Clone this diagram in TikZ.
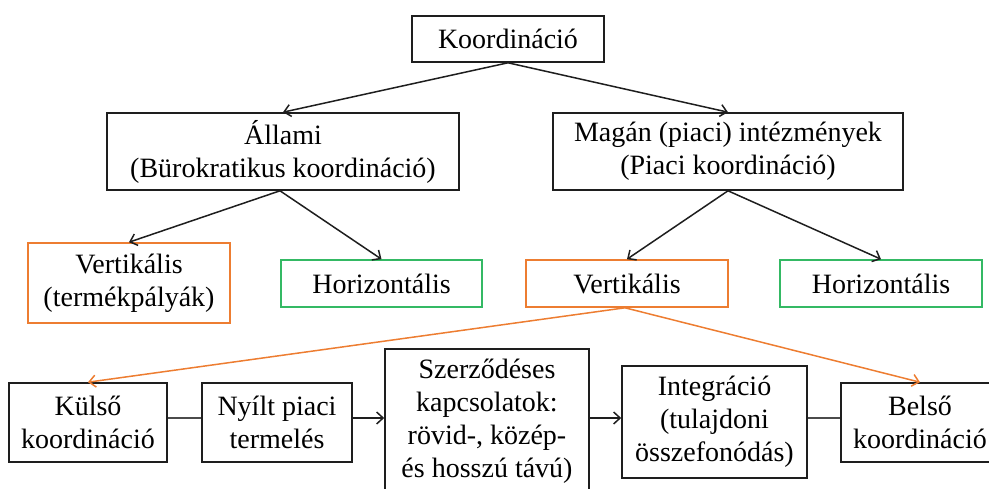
\documentclass[tikz,border=0pt]{standalone}
\usepackage{fontspec}
\setmainfont{Liberation Serif}
\usetikzlibrary{arrows.meta}
\definecolor{boxorange}{RGB}{237,125,49}
\definecolor{boxgreen}{RGB}{52,185,100}
\definecolor{inkblack}{RGB}{30,30,30}
\begin{document}
\begin{tikzpicture}[x=1pt,y=-1pt,
  every node/.style={font=\fontsize{28}{33}\selectfont, inner sep=0pt, align=center},
  blk/.style={draw=inkblack, line width=1.6pt, minimum width=#1},
  orbox/.style={draw=boxorange, line width=1.6pt, minimum width=#1},
  grbox/.style={draw=boxgreen, line width=1.6pt, minimum width=#1},
  arr/.style={draw=inkblack, line width=1.5pt, -{Straight Barb[length=6.5pt,width=12pt]}},
  oarr/.style={draw=boxorange, line width=1.5pt, -{Straight Barb[length=6.5pt,width=12pt]}},
  link/.style={draw=inkblack!80, line width=1.5pt}]
\useasboundingbox (0,0) rectangle (989,489);
\clip (0,0) rectangle (989,489);

% top level
\node[blk=192pt, minimum height=46pt] (koord) at (508,39) {Koordináció};

% second level
\node[blk=352pt, minimum height=77pt] (allami) at (283,151.5) {Állami\\(Bürokratikus koordináció)};
\node[blk=350pt, minimum height=77pt] (magan) at (728,151.5) {Magán (piaci) intézmények\\(Piaci koordináció)};

% third level
\node[orbox=202pt, minimum height=80pt] (vert1) at (129,283) {Vertikális\\(termékpályák)};
\node[grbox=201pt, minimum height=47pt] (hor1) at (381.5,283.5) {Horizontális};
\node[orbox=202pt, minimum height=47pt] (vert2) at (627,283.5) {Vertikális};
\node[grbox=202pt, minimum height=47pt] (hor2) at (881,283.5) {Horizontális};

% bottom chain
\node[blk=158pt, minimum height=79pt] (kulso) at (88,422.5) {Külső\\koordináció};
\node[blk=150pt, minimum height=79pt] (nyilt) at (277,422.5) {Nyílt piaci\\termelés};
\node[blk=204pt, minimum height=144pt] (szerz) at (487,421) {Szerződéses\\kapcsolatok:\\rövid-, közép-\\és hosszú távú)};
\node[blk=185pt, minimum height=112pt] (integr) at (714.5,422) {Integráció\\(tulajdoni\\összefonódás)};
\node[blk=158pt, minimum height=79pt] (belso) at (920,422.5) {Belső\\koordináció};

% hierarchy connectors
\draw[arr] (koord.south) -- (allami.north);
\draw[arr] (koord.south) -- (magan.north);
\draw[arr] ([xshift=-3pt]allami.south) -- (vert1.north);
\draw[arr] ([xshift=-3pt]allami.south) -- (hor1.north);
\draw[arr] (magan.south) -- (vert2.north);
\draw[arr] (magan.south) -- (hor2.north);
\draw[oarr] ([xshift=-2pt]vert2.south) -- (kulso.north);
\draw[oarr] ([xshift=-2pt]vert2.south) -- (belso.north);

% chain connectors, all level at one height
\draw[link] ([yshift=4.5pt]kulso.east) -- ([yshift=4.5pt]nyilt.west);
\draw[arr] ([yshift=4.5pt]nyilt.east) -- ([yshift=3pt]szerz.west);
\draw[arr] ([yshift=3pt]szerz.east) -- ([yshift=4pt]integr.west);
\draw[link] ([yshift=4pt]integr.east) -- ([yshift=4.5pt]belso.west);
\end{tikzpicture}
\end{document}
